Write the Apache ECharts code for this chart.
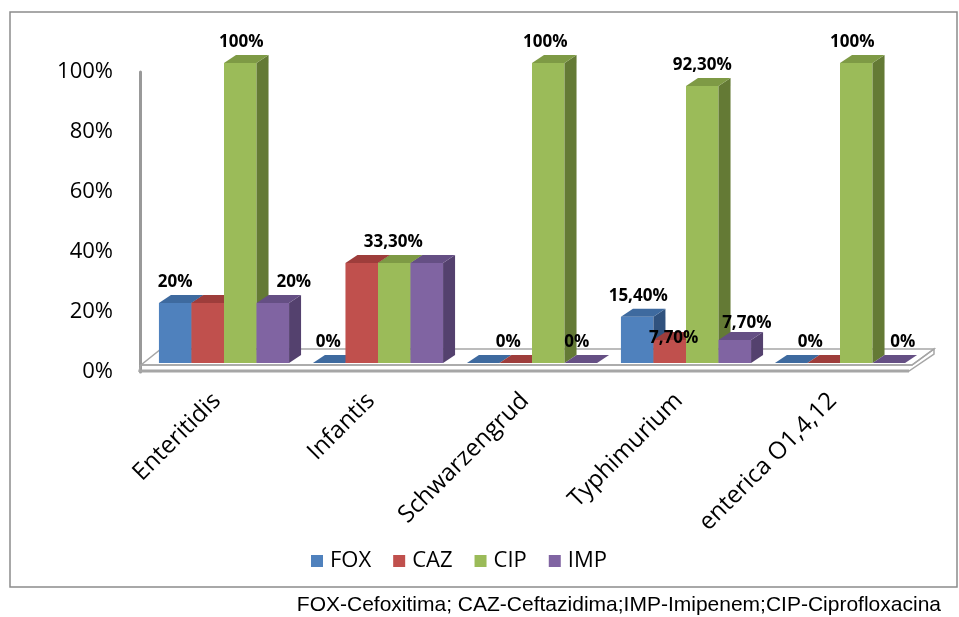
<!DOCTYPE html>
<html>
<head>
<meta charset="utf-8">
<script src="https://cdn.jsdelivr.net/npm/echarts@6/dist/echarts.min.js"></script>
<style>
  html, body { margin: 0; padding: 0; background: #fff; }
  #chart { width: 959px; height: 617px; }
</style>
</head>
<body>
<div id="chart"></div>
<script>
// Serotypes on the category axis
const categories = ['Enteritidis', 'Infantis', 'Schwarzengrud', 'Typhimurium', 'enterica O1,4,12'];

// Resistance percentages per antibiotic
const FOX = [20, 0, 0, 15.4, 0];
const CAZ = [20, 33.3, 0, 7.7, 0];
const CIP = [100, 33.3, 100, 92.3, 100];
const IMP = [20, 33.3, 0, 7.7, 0];

// Value axis ticks (percent)
const yTicks = [0, 20, 40, 60, 80, 100];

const seriesNames = ['FOX', 'CAZ', 'CIP', 'IMP'];
const seriesValues = [FOX, CAZ, CIP, IMP];

// Face colours for each 3D bar: front, top, side
const palette = [
  { front: '#4F81BD', top: '#3E6A9F', side: '#30527E' },
  { front: '#C0504D', top: '#9E3D3B', side: '#7E2F2D' },
  { front: '#9BBB59', top: '#7E9A45', side: '#647A35' },
  { front: '#8064A2', top: '#654F84', side: '#54416E' }
];

// Placement of each value label relative to the top of its bar (null = no label)
const labelTweaks = [
  [{ dx: -6 }, { dx: -7 }, { dx: 19 }, { dx: -5 }, { dx: 13 }],
  [null, null, null, { dx: -2, dy: 19 }, null],
  [{ dx: -5 }, { dx: -7 }, { dx: -9 }, { dx: -6 }, { dx: -10 }],
  [{ dx: 15 }, null, { dx: -10 }, { dx: 6, dy: 4 }, { dx: 8 }]
];

const DEPTH_X = 12, DEPTH_Y = 8, LIFT = 9, GROUP_RATIO = 0.845;

function fmtPct(v) {
  return (Number.isInteger(v) ? String(v) : v.toFixed(2).replace('.', ',')) + '%';
}

function barGeom(api, sIdx, cat, v) {
  const base = api.coord([cat, 0]);
  const topP = api.coord([cat, v]);
  const band = api.size([1, 0])[0];
  const groupW = band * GROUP_RATIO;
  const bw = groupW / 4;
  const x0 = base[0] - groupW / 2 + sIdx * bw;
  return { x0: x0, x1: x0 + bw, yb: base[1] - LIFT, yt: topP[1] - LIFT, bw: bw };
}

function makeBarRenderer(sIdx) {
  const c = palette[sIdx];
  return function (params, api) {
    const cat = api.value(0), v = api.value(1);
    const g = barGeom(api, sIdx, cat, v);
    const children = [];
    if (g.yb - g.yt > 0.5) {
      children.push({
        type: 'rect',
        shape: { x: g.x0, y: g.yt, width: g.bw, height: g.yb - g.yt },
        style: { fill: c.front }
      });
      children.push({
        type: 'polygon',
        shape: { points: [[g.x1, g.yt], [g.x1 + DEPTH_X, g.yt - DEPTH_Y], [g.x1 + DEPTH_X, g.yb - DEPTH_Y], [g.x1, g.yb]] },
        style: { fill: c.side }
      });
    }
    children.push({
      type: 'polygon',
      shape: { points: [[g.x0, g.yt], [g.x1, g.yt], [g.x1 + DEPTH_X, g.yt - DEPTH_Y], [g.x0 + DEPTH_X, g.yt - DEPTH_Y]] },
      style: { fill: c.top }
    });
    return { type: 'group', children: children };
  };
}

// Floor slab and back edge, built from the grid's own geometry
function renderFloor(params, api) {
  const cs = params.coordSys;
  const y0 = cs.y + cs.height;
  const L = cs.x, R = cs.x + cs.width;
  const fy = y0 - 7, by = y0 - 23, bot = y0 - 1;
  const fl = L - 6, fr = R - 5, bl = L + 14, br = R + 17;
  const grey = '#A6A6A6';
  return {
    type: 'group',
    children: [
      { type: 'polygon', shape: { points: [[fl, fy], [fr, fy], [br, by], [bl, by]] },
        style: { fill: '#fff', stroke: grey, lineWidth: 1.5 } },
      { type: 'polygon', shape: { points: [[fl, fy], [fr, fy], [br, by], [br, by + 5], [fr - 3, bot], [fl - 2, bot]] },
        style: { fill: 'none', stroke: grey, lineWidth: 1.5 } },
      { type: 'line', shape: { x1: fl - 2, y1: bot, x2: fr - 3, y2: bot },
        style: { stroke: grey, lineWidth: 3 } }
    ]
  };
}

function renderLabel(params, api) {
  const cat = api.value(0), sIdx = api.value(1);
  const tw = labelTweaks[sIdx][cat];
  if (!tw) return null;
  const v = seriesValues[sIdx][cat];
  const g = barGeom(api, sIdx, cat, v);
  return {
    type: 'text',
    style: {
      text: fmtPct(v),
      x: g.x0 + g.bw / 2 + DEPTH_X / 2 + (tw.dx || 0),
      y: g.yt - DEPTH_Y - 13 + (tw.dy || 0),
      align: 'center',
      verticalAlign: 'middle',
      fill: '#000',
      font: 'bold 17px "Open Sans", sans-serif'
    }
  };
}

const labelData = [];
seriesValues.forEach(function (arr, s) {
  arr.forEach(function (v, i) { labelData.push([i, s]); });
});

const chart = echarts.init(document.getElementById('chart'), null, { renderer: 'canvas' });

const barSeries = seriesNames.map(function (name, s) {
  return {
    name: name,
    type: 'custom',
    renderItem: makeBarRenderer(s),
    data: seriesValues[s].map(function (v, i) { return [i, v]; }),
    itemStyle: { color: palette[s].front },
    silent: true,
    z: 3
  };
});

chart.setOption({
  animation: false,
  backgroundColor: '#fff',
  grid: { left: 147, right: 42, top: 72, bottom: 245 },
  legend: {
    data: seriesNames,
    left: 306,
    top: 545,
    icon: 'rect',
    itemWidth: 12,
    itemHeight: 12,
    itemGap: 22,
    textStyle: { fontFamily: 'Open Sans', fontSize: 22, color: '#000', padding: [0, 0, 0, 2] },
    selectedMode: false
  },
  title: {
    text: 'FOX-Cefoxitima; CAZ-Ceftazidima;IMP-Imipenem;CIP-Ciprofloxacina',
    right: 18,
    top: 595,
    padding: 0,
    textStyle: { fontFamily: 'Liberation Sans', fontSize: 21, fontWeight: 'normal', color: '#000' }
  },
  graphic: [
    {
      type: 'rect',
      shape: { x: 10, y: 12, width: 947, height: 575 },
      style: { fill: 'none', stroke: '#8C8C8C', lineWidth: 1.5 },
      silent: true,
      z: -1
    }
  ],
  xAxis: {
    type: 'category',
    data: categories,
    axisLine: { show: false },
    axisTick: { show: false },
    axisLabel: {
      rotate: 45,
      margin: 18,
      interval: 0,
      fontFamily: 'Open Sans',
      fontSize: 24,
      color: '#000',
      padding: [0, 10, 0, 0]
    },
    splitLine: { show: false }
  },
  yAxis: {
    type: 'value',
    min: yTicks[0],
    max: yTicks[yTicks.length - 1],
    interval: yTicks[1] - yTicks[0],
    offset: 7,
    axisLine: { show: true, lineStyle: { color: '#999', width: 3 } },
    axisTick: { show: false },
    splitLine: { show: false },
    axisLabel: {
      margin: 27,
      fontFamily: 'Open Sans',
      fontSize: 22,
      color: '#000',
      formatter: function (v) { return v + '%'; }
    }
  },
  series: [
    {
      name: 'floor',
      type: 'custom',
      renderItem: renderFloor,
      data: [[0, 0]],
      silent: true,
      z: 1
    }
  ].concat(barSeries).concat([
    {
      name: 'values',
      type: 'custom',
      renderItem: renderLabel,
      data: labelData,
      silent: true,
      z: 10
    }
  ])
});
</script>
</body>
</html>
